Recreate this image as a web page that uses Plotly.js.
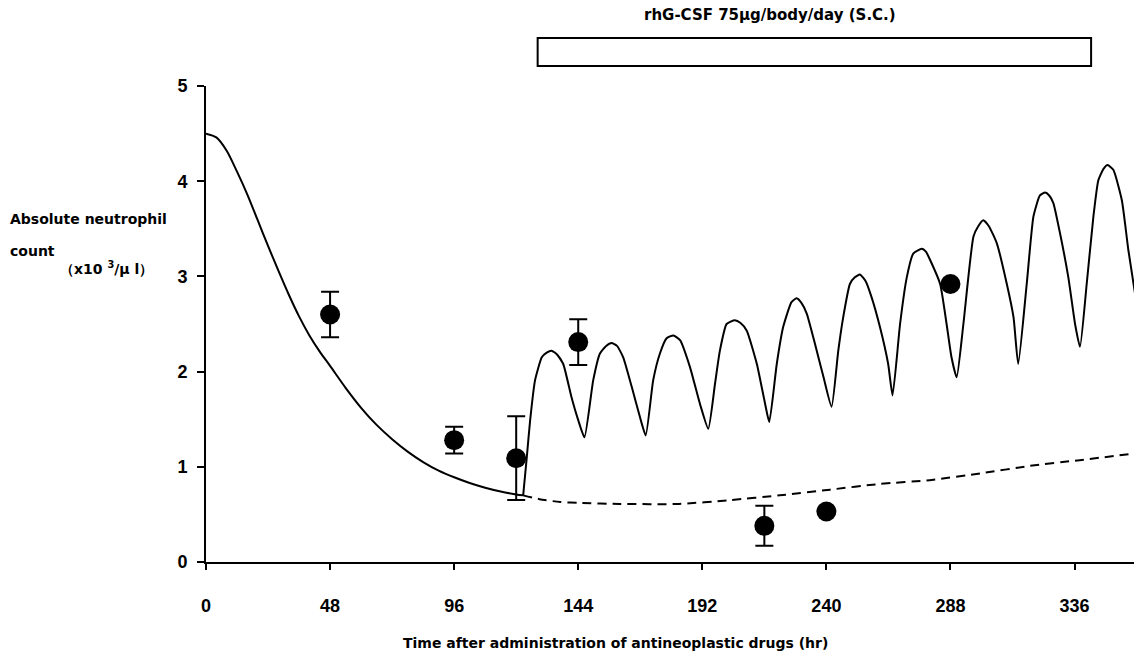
<!DOCTYPE html>
<html>
<head>
<meta charset="utf-8">
<script src="https://cdn.plot.ly/plotly-3.0.1.min.js"></script>
<style>html,body{margin:0;padding:0;background:#fff;}#chart{width:1135px;height:658px;}</style>
</head>
<body>
<div id="chart"></div>
<script>
// Observed data (mean ± SD)
const obsT = [48, 96, 120, 144, 216, 240, 288];
const obsY = [2.60, 1.28, 1.09, 2.31, 0.38, 0.53, 2.92];
const obsErr = [0.24, 0.14, 0.44, 0.24, 0.21, 0, 0];

// Simulated curve: decline after antineoplastic drugs (solid)
const declineT = [0, 4, 8, 12, 16, 20, 24, 28, 32, 36, 40, 44, 48, 54, 60, 66, 72, 78, 84, 90, 96, 102, 108, 114, 120, 122.7];
const declineY = [4.50, 4.46, 4.32, 4.10, 3.86, 3.59, 3.32, 3.06, 2.81, 2.58, 2.38, 2.21, 2.06, 1.83, 1.62, 1.44, 1.29, 1.16, 1.05, 0.96, 0.89, 0.83, 0.78, 0.74, 0.71, 0.70];

// Simulated curve without rhG-CSF (dashed)
const noCsfT = [122.7, 129, 137, 144.7, 160, 183, 202.7, 222, 241.4, 260.7, 280, 299.4, 318.8, 338, 359.4];
const noCsfY = [0.70, 0.66, 0.63, 0.62, 0.61, 0.61, 0.65, 0.70, 0.76, 0.82, 0.86, 0.93, 1.01, 1.07, 1.14];

// Simulated curve with rhG-CSF (solid, oscillating)
const csfT = [122.7, 124.1, 125.4, 127.3, 129.9, 131.8, 133.7, 135.8, 138.2, 141.4, 144.0, 146.4, 149.8, 152.4, 154.8, 156.9, 159.0, 161.4, 164.7, 167.9, 170.1, 173.0, 175.6, 178.2, 180.8, 183.4, 187.2, 191.1, 194.3, 196.9, 198.8, 201.4, 204.6, 206.8, 209.2, 213.1, 216.3, 217.9, 220.8, 223.3, 226.5, 228.5, 230.4, 232.4, 235.6, 238.9, 242.0, 244.6, 246.5, 249.1, 251.0, 253.0, 255.2, 257.5, 260.7, 263.9, 265.6, 268.5, 271.1, 273.6, 276.9, 278.5, 280.0, 284.0, 286.5, 288.4, 290.4, 293.0, 296.9, 298.8, 300.7, 302.8, 305.9, 309.8, 312.4, 314.2, 317.5, 320.1, 322.6, 324.6, 326.2, 327.8, 330.4, 333.6, 336.2, 338.1, 340.7, 343.3, 345.2, 347.2, 348.8, 351.0, 354.3, 356.8, 359.4];
const csfY = [0.70, 1.10, 1.49, 1.91, 2.15, 2.20, 2.22, 2.18, 2.08, 1.73, 1.49, 1.31, 1.91, 2.19, 2.27, 2.30, 2.27, 2.15, 1.84, 1.52, 1.33, 1.91, 2.19, 2.35, 2.38, 2.33, 2.05, 1.66, 1.40, 1.87, 2.22, 2.50, 2.54, 2.51, 2.43, 2.08, 1.66, 1.47, 2.08, 2.47, 2.73, 2.77, 2.72, 2.61, 2.29, 1.94, 1.63, 2.22, 2.57, 2.92, 2.99, 3.02, 2.95, 2.78, 2.47, 2.08, 1.75, 2.50, 2.99, 3.24, 3.29, 3.26, 3.18, 2.92, 2.50, 2.15, 1.94, 2.50, 3.42, 3.53, 3.59, 3.53, 3.35, 2.92, 2.57, 2.08, 2.92, 3.63, 3.85, 3.88, 3.85, 3.77, 3.45, 2.99, 2.50, 2.26, 2.92, 3.63, 4.01, 4.13, 4.17, 4.12, 3.80, 3.28, 2.82];

// Dosing period bar
const dosingStart = 128.3;
const dosingEnd = 342.4;

const xTicks = [0, 48, 96, 144, 192, 240, 288, 336];
const yTicks = [0, 1, 2, 3, 4, 5];

const lineStyle = {color: '#000', width: 2};
const traces = [
  {x: declineT, y: declineY, mode: 'lines', line: Object.assign({shape: 'spline', smoothing: 0.8}, lineStyle), hoverinfo: 'skip'},
  {x: csfT, y: csfY, mode: 'lines', line: Object.assign({shape: 'spline', smoothing: 0.5}, lineStyle), hoverinfo: 'skip'},
  {x: noCsfT, y: noCsfY, mode: 'lines', line: {color: '#000', width: 2, dash: '9px,6px', shape: 'spline', smoothing: 0.6}, hoverinfo: 'skip'},
  {x: obsT, y: obsY, mode: 'markers', marker: {color: '#000', size: 20},
   error_y: {type: 'data', array: obsErr, visible: true, color: '#000', thickness: 2, width: 9}}
];

const tickFont = {family: '"Liberation Sans", Arial, sans-serif', size: 18, color: '#000', weight: 'bold'};
const textFont = {family: '"DejaVu Sans", sans-serif', size: 14, color: '#000', weight: 'bold'};

const layout = {
  width: 1135, height: 658,
  margin: {l: 206, r: 1, t: 86, b: 96},
  paper_bgcolor: '#fff', plot_bgcolor: '#fff',
  showlegend: false,
  xaxis: {
    range: [0, 359], tickvals: xTicks, ticktext: xTicks.map(String),
    showgrid: false, zeroline: false, showline: true, linecolor: '#000', linewidth: 2,
    ticks: 'outside', ticklen: 6, tickwidth: 2, tickcolor: '#000',
    tickfont: tickFont, ticklabelstandoff: 20
  },
  yaxis: {
    range: [0, 5], tickvals: yTicks, ticktext: yTicks.map(String),
    showgrid: false, zeroline: false, showline: true, linecolor: '#000', linewidth: 2,
    ticks: 'outside', ticklen: 7, tickwidth: 2, tickcolor: '#000',
    tickfont: Object.assign({}, tickFont, {size: 18}), ticklabelstandoff: 6
  },
  shapes: [
    {type: 'rect', xref: 'x', yref: 'paper', x0: dosingStart, x1: dosingEnd, y0: 1.042, y1: 1.101,
     line: {color: '#000', width: 2}, fillcolor: 'rgba(0,0,0,0)'}
  ],
  annotations: [
    {xref: 'paper', yref: 'paper', x: 0.608, y: 1.149, xanchor: 'center', yanchor: 'middle', showarrow: false,
     text: 'rhG-CSF 75μg/body/day (S.C.)', font: Object.assign({}, textFont, {size: 15})},
    {xref: 'paper', yref: 'paper', x: -0.2134, y: 0.7203, xanchor: 'left', yanchor: 'middle', showarrow: false,
     text: 'Absolute neutrophil', font: textFont},
    {xref: 'paper', yref: 'paper', x: -0.2134, y: 0.653, xanchor: 'left', yanchor: 'middle', showarrow: false,
     text: 'count', font: textFont},
    {xref: 'paper', yref: 'paper', x: -0.1595, y: 0.6172, xanchor: 'left', yanchor: 'middle', showarrow: false,
     text: '（x10 <sup>3</sup>/μ l）', font: textFont},
    {xref: 'paper', yref: 'paper', x: 0.441, y: -0.1693, xanchor: 'center', yanchor: 'middle', showarrow: false,
     text: 'Time after administration of antineoplastic drugs (hr)', font: Object.assign({}, textFont, {size: 14})}
  ]
};

Plotly.newPlot('chart', traces, layout, {staticPlot: true, displayModeBar: false});
</script>
</body>
</html>
